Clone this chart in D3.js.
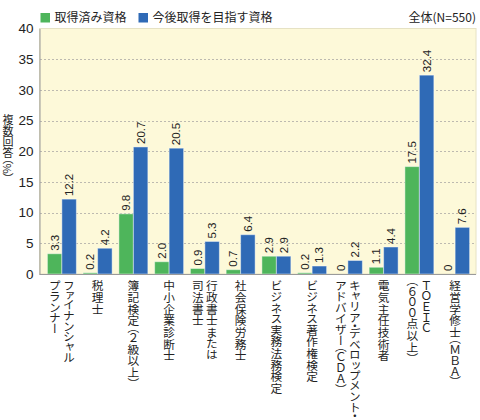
<!DOCTYPE html>
<html>
<head>
<meta charset="utf-8">
<script src="https://cdn.jsdelivr.net/npm/d3@7"></script>
<style>
  body { margin: 0; background: #fff; }
  text { font-family: "Liberation Sans", "Noto Sans CJK JP", sans-serif; fill: #222; }
  .jp { font-family: "Noto Sans CJK JP", sans-serif; }
  .vert { writing-mode: vertical-rl; font-feature-settings: "vpal"; }
</style>
</head>
<body>
<script>
// categories: each label split into vertical columns (right column first)
var categories = [
  ["ファイナンシャル", "プランナー"],
  ["税理士"],
  ["簿記検定（２級以上）"],
  ["中小企業診断士"],
  ["行政書士または", "司法書士"],
  ["社会保険労務士"],
  ["ビジネス実務法務検定"],
  ["ビジネス著作権検定"],
  ["キャリア・デベロップメント・", "アドバイザー（ＣＤＡ）"],
  ["電気主任技術者"],
  ["ＴＯＥＩＣ", "（６００点以上）"],
  ["経営学修士（ＭＢＡ）"]
];
var acquired = [3.3, 0.2, 9.8, 2.0, 0.9, 0.7, 2.9, 0.2, 0, 1.1, 17.5, 0];
var wanted   = [12.2, 4.2, 20.7, 20.5, 5.3, 6.4, 2.9, 1.3, 2.2, 4.4, 32.4, 7.6];
var seriesNames = ["取得済み資格", "今後取得を目指す資格"];
var yTicks = [0, 5, 10, 15, 20, 25, 30, 35, 40];

var w = 480, h = 420;
var colors = ["#4eb55b", "#2f6ab6"];

var svg = d3.select("body").append("svg")
    .attr("width", w)
    .attr("height", h);

var x = d3.scaleBand()
    .domain(d3.range(categories.length))
    .range([44, 473])
    .paddingInner(0.19)
    .paddingOuter(0.095);
var xi = d3.scaleBand()
    .domain([0, 1])
    .range([0, x.bandwidth()]);
var y = d3.scaleLinear()
    .domain([0, 40])
    .range([274, 28.5]);

// plot background
svg.append("rect")
    .attr("x", 39.5).attr("y", y(40))
    .attr("width", 476 - 39.5).attr("height", y(0) - y(40))
    .attr("fill", "#fdf9d9")
    .attr("stroke", "#e6e2c4");

// grid lines
svg.selectAll("line.grid").data(yTicks.filter(function (d) { return d > 0 && d < 40; }))
    .enter().append("line")
    .attr("class", "grid")
    .attr("x1", 40).attr("x2", 476)
    .attr("y1", function (d) { return Math.round(y(d)) + 0.5; })
    .attr("y2", function (d) { return Math.round(y(d)) + 0.5; })
    .attr("stroke", "#bdbab0")
    .attr("stroke-dasharray", "2,2");

// y axis
var yAxis = svg.append("g")
    .attr("transform", "translate(39.5,0)")
    .call(d3.axisLeft(y).tickValues(yTicks).tickSize(0).tickPadding(6));
yAxis.select(".domain").attr("stroke", "#9a9a9a");
yAxis.selectAll("text").attr("font-size", 13.5).attr("fill", "#222")
    .attr("font-family", "Liberation Sans, sans-serif");

// bars
var series = [acquired, wanted];
series.forEach(function (vals, s) {
    var g = svg.append("g");
    g.selectAll("rect").data(vals).enter().append("rect")
        .attr("x", function (d, i) { return x(i) + xi(s); })
        .attr("y", function (d) { return y(d); })
        .attr("width", xi.bandwidth())
        .attr("height", function (d) { return y(0) - y(d); })
        .attr("fill", colors[s])
        .attr("stroke", "rgba(255,255,255,0.45)")
        .attr("stroke-width", 1);
    g.selectAll("text").data(vals).enter().append("text")
        .attr("transform", function (d, i) {
            return "translate(" + (x(i) + xi(s) + xi.bandwidth() / 2) + "," + (y(d) - 3) + ") rotate(-90)";
        })
        .attr("dominant-baseline", "central")
        .attr("font-size", 11.5)
        .attr("fill", "#333")
        .text(function (d) { return d === 0 ? "0" : d.toFixed(1); });
});

// bottom axis line
svg.append("line")
    .attr("x1", 39.5).attr("x2", 476)
    .attr("y1", y(0) + 0.5).attr("y2", y(0) + 0.5)
    .attr("stroke", "#9a9a9a");

// x labels, vertical writing
categories.forEach(function (lines, i) {
    var cx = x(i) + x.bandwidth() / 2;
    var n = lines.length;
    lines.forEach(function (t, j) {
        var off = n === 1 ? 0 : (j === 0 ? 7 : -7);
        svg.append("text")
            .attr("class", "jp vert")
            .attr("x", cx + off)
            .attr("y", 280)
            .attr("font-size", 11.7)
            .attr("fill", "#222")
            .text(t);
    });
});

// y title
svg.append("text")
    .attr("class", "jp vert")
    .attr("x", 8)
    .attr("y", 114)
    .attr("font-size", 11)
    .text("複数回答（%）");

// legend
seriesNames.forEach(function (name, s) {
    var lx = [40.5, 138.5][s];
    svg.append("rect")
        .attr("x", lx).attr("y", 13)
        .attr("width", 9.5).attr("height", 9.5)
        .attr("fill", colors[s]);
    svg.append("text")
        .attr("class", "jp")
        .attr("x", lx + 14).attr("y", 22)
        .attr("font-size", 12)
        .text(name);
});

svg.append("text")
    .attr("class", "jp")
    .attr("x", 476).attr("y", 22)
    .attr("text-anchor", "end")
    .attr("font-size", 12)
    .text("全体(N=550)");
</script>
</body>
</html>
